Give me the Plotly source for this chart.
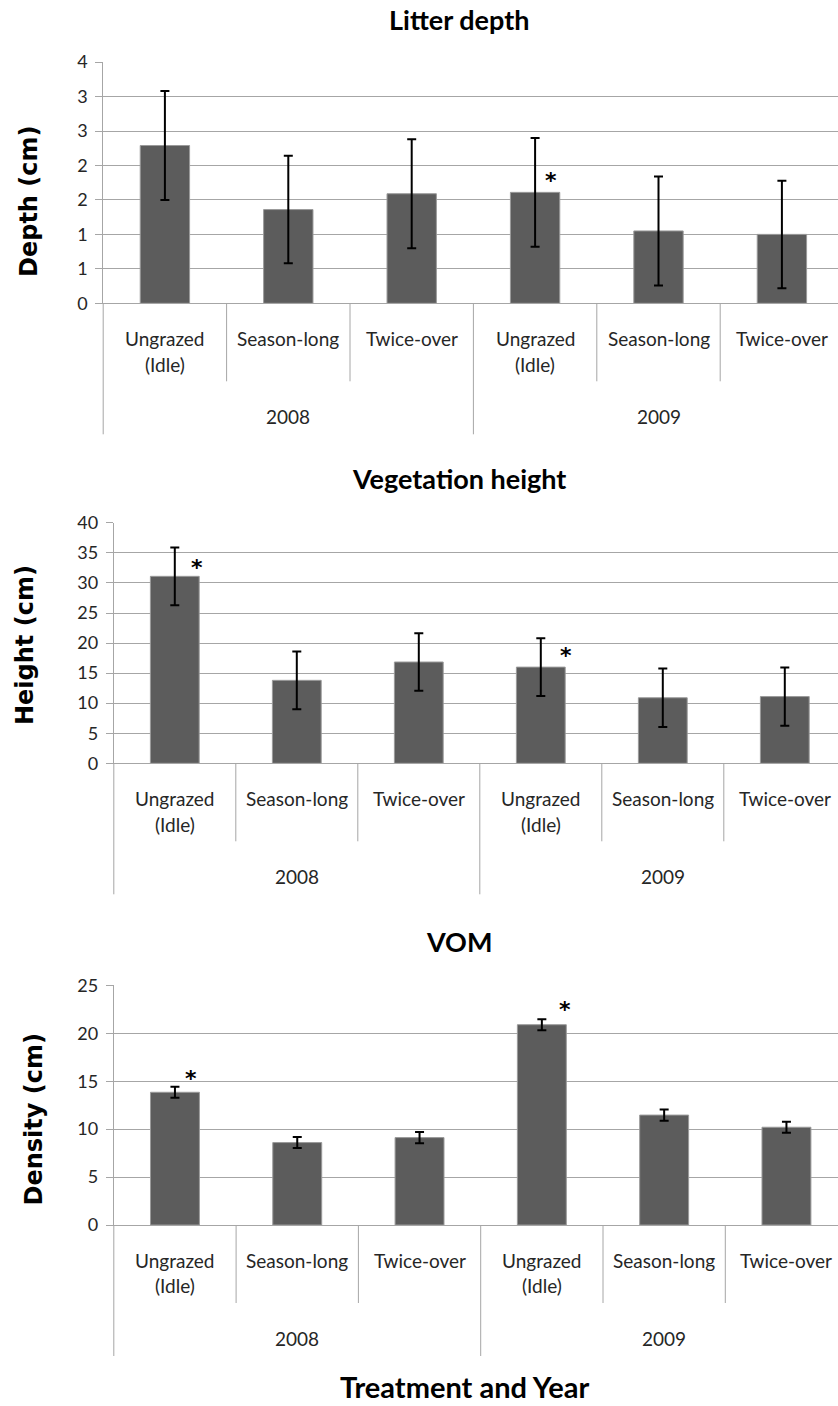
import plotly.graph_objects as go

# ---- data -------------------------------------------------------------
treatments = ["Ungrazed<br>(Idle)", "Season-long", "Twice-over"]
years = ["2008", "2009"]

litter_mean = [2.29, 1.36, 1.59, 1.61, 1.05, 1.00]
litter_err = [0.79, 0.78, 0.79, 0.79, 0.79, 0.78]

height_mean = [31.1, 13.8, 16.85, 16.0, 10.9, 11.1]
height_err = [4.8, 4.8, 4.8, 4.8, 4.85, 4.85]

vom_mean = [13.85, 8.6, 9.12, 20.9, 11.47, 10.2]
vom_err = [0.57, 0.57, 0.58, 0.57, 0.59, 0.58]

litter_tickvals = [0, 0.5, 1, 1.5, 2, 2.5, 3, 3.5]
litter_ticktext = ["0", "1", "1", "2", "2", "3", "3", "4"]
height_tickvals = [0, 5, 10, 15, 20, 25, 30, 35, 40]
vom_tickvals = [0, 5, 10, 15, 20, 25]

# significant bars: (bar index, height of the asterisk in axis units)
litter_sig = [(3, 1.82)]
height_sig = [(0, 33.1), (3, 18.4)]
vom_sig = [(0, 15.64), (3, 22.84)]

# ---- layout helpers -------------------------------------------------------
W, H = 838, 1406
GRID = "#a6a6a6"
BAR = "#5c5c5c"
TXT = "#262626"
LATO = "Lato, 'Open Sans', sans-serif"
BOLD_WIDE = "'DejaVu Sans', Verdana, sans-serif"


def py(ypix):
    return 1 - ypix / H


def pxf(xpix):
    return xpix / W


x_cats = []
for yr in years:
    for t in treatments:
        x_cats.append(t)
x_idx = list(range(len(x_cats)))

panels = [
    dict(title="Litter depth", ytitle="Depth (cm)", mean=litter_mean, err=litter_err,
         tickvals=litter_tickvals, ticktext=litter_ticktext, ymax=3.5, sig=litter_sig,
         top=62, bottom=303.3, left=103.2, step=123.4, title_y=20, ytitle_x=29.5, ytitle_y=201.5,
         star_dx=[0.13]),
    dict(title="Vegetation height", ytitle="Height (cm)", mean=height_mean, err=height_err,
         tickvals=height_tickvals, ticktext=[str(v) for v in height_tickvals], ymax=40, sig=height_sig,
         top=522.7, bottom=763.3, left=113.8, step=122.0, title_y=478, ytitle_x=25, ytitle_y=645,
         star_dx=[0.18, 0.21]),
    dict(title="VOM", ytitle="Density (cm)", mean=vom_mean, err=vom_err,
         tickvals=vom_tickvals, ticktext=[str(v) for v in vom_tickvals], ymax=25, sig=vom_sig,
         top=985.3, bottom=1225, left=113.8, step=122.3, title_y=941.7, ytitle_x=33.5, ytitle_y=1120,
         star_dx=[0.13, 0.19]),
]

fig = go.Figure()
annotations = []
shapes = []
layout_axes = {}

for n, p in enumerate(panels, start=1):
    sfx = "" if n == 1 else str(n)
    xa, ya = "x" + sfx, "y" + sfx

    fig.add_trace(go.Bar(
        x=x_idx, y=p["mean"], xaxis=xa, yaxis=ya, width=0.4,
        marker=dict(color=BAR, line=dict(color="#9a9a9a", width=1)),
        error_y=dict(type="data", array=p["err"], visible=True,
                     color="black", thickness=2, width=4.5),
        showlegend=False, hoverinfo="skip",
    ))

    span = (W - p["left"]) / p["step"]
    layout_axes["xaxis" + sfx] = dict(
        domain=[pxf(p["left"]), 1], anchor=ya, range=[-0.5, -0.5 + span],
        showgrid=False, zeroline=False, showline=True, linecolor=GRID, linewidth=1,
        showticklabels=False, ticks="", fixedrange=True, automargin=False,
    )
    layout_axes["yaxis" + sfx] = dict(
        domain=[py(p["bottom"]), py(p["top"])], anchor=xa, range=[0, p["ymax"] * 1.0005],
        tickmode="array", tickvals=p["tickvals"], ticktext=p["ticktext"],
        showgrid=True, gridcolor=GRID, gridwidth=1, zeroline=False,
        showline=True, linecolor=GRID, linewidth=1,
        ticks="outside", ticklen=7, tickcolor=GRID, ticklabelstandoff=4,
        tickfont=dict(family=LATO, size=18, color=TXT), fixedrange=True, automargin=False,
    )

    # chart title
    annotations.append(dict(
        text="<b>%s</b>" % p["title"], xref="paper", yref="paper",
        x=pxf(459), y=py(p["title_y"]), xanchor="center", yanchor="middle",
        showarrow=False, font=dict(family=LATO, size=27, color="black"),
    ))
    # y-axis title
    annotations.append(dict(
        text="<b>%s</b>" % p["ytitle"], xref="paper", yref="paper", textangle=-90,
        x=pxf(p["ytitle_x"]), y=py(p["ytitle_y"]), xanchor="center", yanchor="middle",
        showarrow=False, font=dict(family=BOLD_WIDE, size=24, color="black"),
    ))

    # treatment labels (one annotation per text line)
    for i, lab in enumerate(x_cats):
        for k, line in enumerate(lab.split("<br>")):
            annotations.append(dict(
                text=line, xref=xa, yref="paper", x=i, y=py(p["bottom"] + 35 + 25.7 * k),
                xanchor="center", yanchor="middle", showarrow=False,
                font=dict(family=LATO, size=19, color=TXT),
            ))
    # year labels
    for j, yr in enumerate(years):
        annotations.append(dict(
            text=yr, xref=xa, yref="paper", x=j * len(treatments) + (len(treatments) - 1) / 2,
            y=py(p["bottom"] + 113.3), xanchor="center", yanchor="middle", showarrow=False,
            font=dict(family=LATO, size=19, color=TXT),
        ))

    # significance asterisks
    for (idx, yv), dx in zip(p["sig"], p["star_dx"]):
        annotations.append(dict(
            text="<b>*</b>", xref=xa, yref=ya, x=idx + dx, y=yv, yshift=-3,
            xanchor="center", yanchor="middle", showarrow=False,
            font=dict(family=BOLD_WIDE, size=22, color="black"),
        ))

    # category dividers below the axis
    for b in range(1, len(x_cats)):
        is_year = b % len(treatments) == 0
        depth = 131 if is_year else 78
        shapes.append(dict(
            type="line", xref=xa, yref="paper", x0=b - 0.5, x1=b - 0.5,
            y0=py(p["bottom"]), y1=py(p["bottom"] + depth),
            line=dict(color=GRID, width=1),
        ))
    shapes.append(dict(
        type="line", xref=xa + " domain", yref="paper", x0=0, x1=0,
        y0=py(p["bottom"]), y1=py(p["bottom"] + 131),
        line=dict(color=GRID, width=1),
    ))

annotations.append(dict(
    text="<b>Treatment and Year</b>", xref="paper", yref="paper",
    x=pxf(465), y=0, xanchor="center", yanchor="bottom", showarrow=False,
    font=dict(family=LATO, size=29, color="black"),
))

fig.update_layout(
    width=W, height=H, margin=dict(l=0, r=0, t=0, b=0, pad=0, autoexpand=False),
    paper_bgcolor="white", plot_bgcolor="white",
    bargap=0.6, annotations=annotations, shapes=shapes,
    **layout_axes,
)

fig.write_html("out.html", config={"displayModeBar": False})
